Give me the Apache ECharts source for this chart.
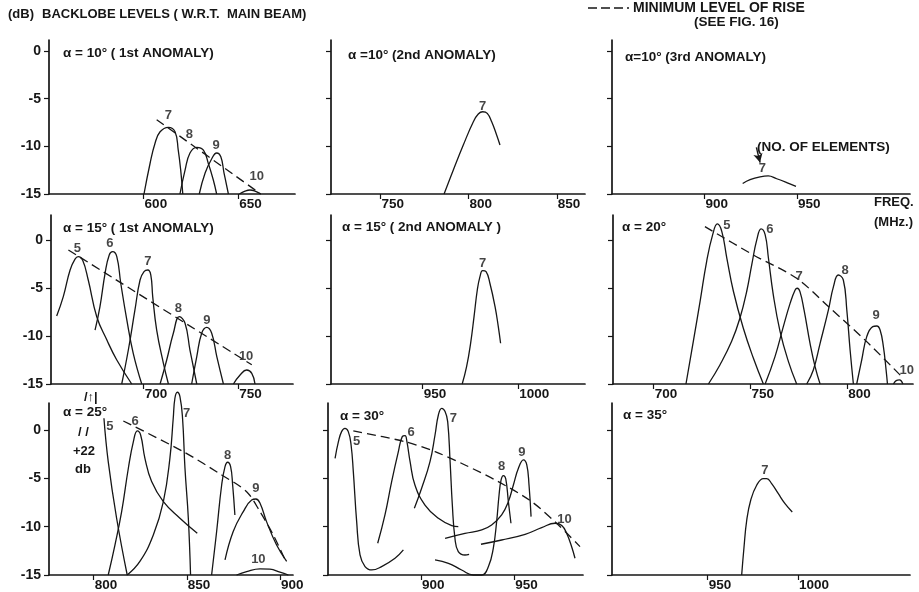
<!DOCTYPE html>
<html><head><meta charset="utf-8">
<script src="https://cdn.jsdelivr.net/npm/echarts@6/dist/echarts.min.js"></script>
<style>html,body{margin:0;padding:0;background:#fff}#c{width:919px;height:592px}</style>
</head><body><div id="c"></div>
<script>
// ---- Data (frequency MHz, backlobe level dB) ----
const yTicks = [-15, -10, -5, 0];
// alpha=10 1st anomaly
const p11_x = [600, 650];
const p11_c7 = [[600.2,-15],[603.4,-11.8],[606.0,-9.7],[608.7,-8.47],[613.1,-8.0],[616.6,-8.47],[618.3,-10.4],[619.6,-12.5],[620.7,-15]];
const p11_c8 = [[619.2,-15],[621.9,-12.5],[624.5,-10.7],[628.1,-10.1],[631.6,-10.4],[634.2,-11.8],[636.8,-13.5],[638.6,-15]];
const p11_c9 = [[629.4,-15],[632.5,-12.8],[636.0,-11.3],[638.6,-10.7],[640.8,-11.1],[642.5,-12.8],[644.8,-15]];
const p11_c10 = [[650.6,-15],[653.6,-14.7],[656.2,-14.58],[658.9,-14.7],[661.9,-15]];
const p11_dash = [[606.9,-7.2],[661.9,-15]];
const p11_lab = [['7',613.1,-6.8],['8',624.2,-8.8],['9',638.3,-9.9],['10',659.8,-13.2]];
// alpha=10 2nd anomaly
const p12_x = [750, 800, 850];
const p12_c7 = [[786.1,-15],[791.3,-12.5],[797.0,-9.86],[802.7,-7.42],[805.5,-6.61],[808.0,-6.37],[810.6,-6.54],[813.1,-7.42],[815.9,-8.81],[817.8,-9.86]];
const p12_lab = [['7',808,-5.77]];
// alpha=10 3rd anomaly
const p13_x = [900, 950];
const p13_c7 = [[920.6,-13.9],[924.6,-13.5],[930.0,-13.2],[934.4,-13.1],[939.0,-13.4],[944.4,-13.8],[949.4,-14.2]];
const p13_lab = [['7',931.2,-12.3]];
const p13_arrow = [[928.0,-10.1],[930.0,-11.7]];
// alpha=15 1st anomaly
const p21_x = [700, 750];
const p21_c5 = [[654.0,-7.92],[657.5,-5.9],[661.1,-3.13],[663.7,-2.0],[665.4,-1.74],[667.8,-2.15],[670.7,-4.17],[675.2,-7.99],[680.5,-10.4],[685.8,-12.5],[693.7,-15]];
const p21_c6 = [[674.3,-9.38],[676.9,-6.94],[679.6,-3.47],[681.8,-1.56],[683.6,-1.22],[685.8,-1.74],[687.9,-4.51],[691.1,-8.33],[694.5,-11.8],[699.0,-15]];
const p21_c7 = [[688.4,-15],[691.9,-11.46],[695.4,-7.29],[698.1,-4.17],[700.2,-3.3],[702.2,-3.13],[703.8,-3.65],[704.8,-5.9],[706.9,-9.38],[710.4,-12.8],[713.1,-15]];
const p21_c8 = [[708.7,-15],[712.2,-12.5],[715.7,-9.72],[718.9,-7.99],[721.9,-8.68],[724.5,-11.46],[728.1,-15]];
const p21_c9 = [[725.4,-15],[728.1,-12.15],[730.7,-9.72],[733.4,-9.1],[736.0,-9.72],[738.7,-12.15],[742.2,-15]];
const p21_c10 = [[747.5,-15],[751.0,-14.06],[754.5,-13.54],[757.2,-13.89],[758.9,-15]];
const p21_dash = [[660.2,-1.04],[757.2,-13.0]];
const p21_lab = [['5',664.9,-0.87],['6',682.2,-0.35],['7',702.2,-2.26],['8',718.4,-7.12],['9',733.4,-8.33],['10',754.2,-12.15]];
// alpha=15 2nd anomaly
const p22_x = [950, 1000];
const p22_c7 = [[970.7,-15],[973.0,-13.2],[975.1,-10.76],[976.9,-7.99],[978.6,-5.21],[980.0,-3.82],[981.4,-3.19],[983.2,-3.3],[985.2,-4.51],[987.9,-6.94],[989.6,-9.03],[990.8,-10.76]];
const p22_lab = [['7',981.4,-2.43]];
// alpha=20
const p23_x = [700, 750, 800];
const p23_c5 = [[716.7,-15],[720.5,-10.56],[724.0,-6.39],[727.4,-2.22],[730.5,0.55],[732.9,1.67],[735.2,0.9],[737.8,-1.88],[741.2,-5.34],[746.3,-9.17],[751.5,-12.3],[756.7,-15]];
const p23_c6 = [[728.3,-15],[734.3,-12.99],[740.3,-10.56],[744.6,-8.13],[748.1,-5.34],[750.7,-2.57],[753.3,0.03],[755.5,1.15],[757.6,0.55],[759.3,-1.88],[761.8,-5.69],[765.3,-9.51],[769.6,-12.64],[773.9,-15]];
const p23_c7 = [[757.6,-15],[762.7,-12.15],[767.0,-9.03],[770.5,-6.6],[773.1,-5.21],[774.2,-5.03],[775.6,-5.38],[777.7,-7.29],[780.8,-10.76],[783.4,-13.19],[786.0,-15]];
const p23_c8 = [[779.1,-15],[782.5,-13.54],[786.0,-10.76],[790.3,-7.29],[792.9,-4.86],[795.4,-3.65],[798.0,-4.17],[799.8,-7.29],[801.5,-11.46],[803.2,-15]];
const p23_c9 = [[804.9,-15],[807.5,-12.5],[810.1,-10.07],[813.2,-9.03],[815.3,-8.96],[817.0,-9.38],[818.7,-11.1],[820.1,-13.54],[820.8,-15]];
const p23_c10 = [[823.9,-15],[825.3,-14.65],[827.0,-14.58],[828.8,-15]];
const p23_dash = [[726.5,1.39],[751.5,-1.56],[773.9,-3.99],[790.3,-6.94],[810.1,-10.59],[828.2,-14.24]];
const p23_lab = [['5',737.8,1.56],['6',760.1,1.11],['7',775.1,-3.75],['8',798.9,-3.13],['9',814.9,-7.81],['10',830.8,-13.54]];
// alpha=25
const p31_x = [800, 850, 900];
const p31_c5 = [[805.5,1.21],[807.8,-3.28],[812.3,-9.13],[818.0,-15]];
const p31_c6 = [[807.8,-15],[811.4,-11.9],[815.0,-8.45],[818.6,-3.96],[821.3,-1.21],[823.4,-0.1],[825.2,-0.52],[827.5,-2.93],[831.1,-5.34],[837.4,-7.41],[846.3,-9.13],[855.6,-10.69]];
const p31_c7 = [[818.0,-15],[824.8,-13.6],[832.0,-10.86],[837.4,-7.41],[840.9,-2.93],[842.7,1.21],[843.6,3.28],[844.9,3.9],[846.3,3.45],[847.7,1.21],[849.0,-3.96],[850.8,-9.13],[852.0,-15]];
const p31_c8 = [[863.3,-15],[866.0,-10.5],[868.7,-5.69],[870.5,-3.79],[871.9,-3.34],[873.5,-3.79],[874.6,-5.69],[875.8,-8.79]];
const p31_c9 = [[870.5,-13.44],[874.9,-10.5],[880.3,-8.45],[884.8,-7.24],[887.1,-7.14],[889.3,-7.58],[892.8,-9.48],[898.2,-11.9],[903.6,-13.6]];
const p31_c10 = [[876.7,-15],[882.1,-14.65],[889.3,-14.37],[894.6,-14.4],[900.0,-14.7],[904.5,-15]];
const p31_dash = [[815.9,0.93],[848.1,-2.24],[868.7,-4.65],[882.1,-6.38],[889.3,-8.45],[896.4,-10.86],[903.2,-13.6]];
const p31_lab = [['5',808.7,0.34],['6',822.2,0.86],['7',849.9,1.72],['8',871.9,-2.59],['9',887.1,-6.03],['10',888.4,-13.44]];
// alpha=30
const p32_x = [900, 950];
const p32_c5 = [[853.8,-2.93],[855.6,-1.21],[857.3,-0.17],[859.1,0.17],[860.9,-0.17],[862.4,-1.55],[863.6,-4.31],[865.4,-9.48],[867.2,-12.93],[869.9,-14.13],[873.5,-14.48],[878.8,-14.13],[886.0,-13.27],[890.5,-12.41]];
const p32_c6 = [[876.7,-11.72],[880.6,-8.79],[884.2,-5.34],[887.8,-2.24],[889.9,-0.69],[891.4,-0.59],[892.4,-1.21],[894.1,-3.28],[896.7,-5.69],[902.1,-7.76],[909.3,-9.13],[916.5,-9.89],[920.0,-10.0]];
const p32_c7 = [[896.4,-8.1],[900.3,-6.03],[904.8,-3.28],[907.5,-0.52],[909.3,1.55],[911.1,2.24],[912.9,1.9],[914.3,0.86],[915.6,-3.28],[916.8,-7.76],[918.2,-11.2],[920.0,-12.58],[923.6,-12.93],[925.8,-12.86]];
const p32_c8 = [[907.5,-13.44],[914.7,-13.79],[921.8,-14.48],[928.1,-15],[932.6,-15],[936.2,-14.13],[938.8,-12.24],[940.6,-9.48],[941.9,-6.72],[943.0,-5.17],[944.2,-4.72],[945.5,-5.06],[946.9,-7.41],[948.3,-9.65]];
const p32_c9 = [[912.9,-11.2],[923.6,-10.69],[932.6,-10.34],[937.9,-9.83],[943.3,-8.79],[946.9,-7.41],[949.6,-5.69],[952.3,-3.97],[955.0,-3.1],[956.8,-3.62],[958.0,-5.69],[959.1,-8.96]];
const p32_c10 = [[932.2,-11.82],[943.3,-11.38],[955.9,-10.79],[964.8,-10.1],[972.0,-9.65],[975.6,-9.89],[978.2,-10.69],[980.9,-12.07],[982.7,-13.27]];
const p32_dash = [[863.6,-0.1],[891.4,-1.21],[907.5,-2.24],[923.6,-3.62],[941.5,-5.34],[959.4,-7.41],[973.8,-9.83],[985.4,-12.07]];
const p32_lab = [['5',865.4,-1.14],['6',894.6,-0.24],['7',917.3,1.21],['8',943.3,-3.79],['9',954.1,-2.31],['10',977.0,-9.2]];
// alpha=35
const p33_x = [950, 1000];
const p33_c7 = [[968.8,-15],[970.1,-12.1],[971.6,-9.34],[973.8,-7.27],[977.1,-5.72],[980.8,-5.03],[982.7,-5.03],[985.4,-5.55],[989.1,-6.59],[992.8,-7.62],[996.8,-8.48]];
const p33_lab = [['7',981.7,-4.17]];

// ---- Layout ----
const INK = '#161616';
const FONT = '"Liberation Sans",Arial,sans-serif';
const panels = [
  {g:[49,40,246,154], x:[550,680], ymax:1.16, xt:p11_x, ylab:true, curves:[p11_c7,p11_c8,p11_c9,p11_c10], dash:[p11_dash], lab:p11_lab, title:'\u03b1 = 10\u00b0 ( 1st ANOMALY)', tp:[63,53]},
  {g:[331,40,254,154], x:[722,866], ymax:1.16, xt:p12_x, ylab:false, curves:[p12_c7], dash:[], lab:p12_lab, title:'\u03b1 =10\u00b0 (2nd ANOMALY)', tp:[348,55]},
  {g:[612,40,298,154], x:[850,1011], ymax:1.16, xt:p13_x, ylab:false, curves:[p13_c7], dash:[], lab:p13_lab, arrow:p13_arrow, title:'\u03b1=10\u00b0 (3rd ANOMALY)', tp:[625,57]},
  {g:[51,215,242,169], x:[651,779], ymax:2.6, xt:p21_x, ylab:true, curves:[p21_c5,p21_c6,p21_c7,p21_c8,p21_c9,p21_c10], dash:[p21_dash], lab:p21_lab, title:'\u03b1 = 15\u00b0 ( 1st ANOMALY)', tp:[63,228]},
  {g:[331,215,254,169], x:[902,1035], ymax:2.6, xt:p22_x, ylab:false, curves:[p22_c7], dash:[], lab:p22_lab, title:'\u03b1 = 15\u00b0 ( 2nd ANOMALY )', tp:[342,227]},
  {g:[613,215,300,169], x:[679,834], ymax:2.6, xt:p23_x, ylab:false, curves:[p23_c5,p23_c6,p23_c7,p23_c8,p23_c9,p23_c10], dash:[p23_dash], lab:p23_lab, title:'\u03b1 = 20\u00b0', tp:[622,227]},
  {g:[49,403,244,172], x:[776,907], ymax:2.79, xt:p31_x, ylab:true, curves:[p31_c5,p31_c6,p31_c7,p31_c8,p31_c9,p31_c10], dash:[p31_dash], lab:p31_lab, title:'\u03b1 = 25\u00b0', tp:[63,412]},
  {g:[328,403,255,172], x:[850,987], ymax:2.79, xt:p32_x, ylab:false, curves:[p32_c5,p32_c6,p32_c7,p32_c8,p32_c9,p32_c10], dash:[p32_dash], lab:p32_lab, title:'\u03b1 = 30\u00b0', tp:[340,416]},
  {g:[612,403,298,172], x:[897,1062], ymax:2.79, xt:p33_x, ylab:false, curves:[p33_c7], dash:[], lab:p33_lab, title:'\u03b1 = 35\u00b0', tp:[623,415]}
];

const option = {animation:false, backgroundColor:'#ffffff', grid:[], xAxis:[], yAxis:[], series:[], graphic:[]};
const txt = (x, y, s, size) => ({type:'text', x:x, y:y, silent:true,
  style:{text:s, fill:INK, font:'bold '+(size||12)+'px '+FONT, verticalAlign:'middle', align:'left'}});

panels.forEach((p, i) => {
  option.grid.push({left:p.g[0], top:p.g[1], width:p.g[2], height:p.g[3]});
  option.xAxis.push({type:'value', gridIndex:i, min:p.x[0], max:p.x[1],
    axisLine:{show:true, onZero:false, lineStyle:{color:INK, width:1.7}},
    axisTick:{show:true, customValues:p.xt, length:5, lineStyle:{color:INK, width:1.2}},
    axisLabel:{show:true, customValues:p.xt, formatter:v => String(v), align:'left', margin:3, padding:[0,0,0,1], color:INK, fontFamily:FONT, fontWeight:'bold', fontSize:13.5},
    splitLine:{show:false}});
  option.yAxis.push({type:'value', gridIndex:i, min:-15, max:p.ymax,
    axisLine:{show:true, onZero:false, lineStyle:{color:INK, width:1.7}},
    axisTick:{show:true, customValues:yTicks, length:5, lineStyle:{color:INK, width:1.2}},
    axisLabel:{show:p.ylab, customValues:yTicks, formatter:v => String(v), margin:8, color:INK, fontFamily:FONT, fontWeight:'bold', fontSize:14},
    splitLine:{show:false}});
  p.curves.forEach((c, k) => {
    const s = {type:'line', xAxisIndex:i, yAxisIndex:i, data:c, showSymbol:false, symbol:'none', clip:false,
      smooth:0.45, lineStyle:{color:INK, width:1.3}, silent:true, z:3};
    if (k === 0 && p.arrow) {
      s.markLine = {silent:true, symbol:['none','arrow'], symbolSize:[7,9], label:{show:false},
        lineStyle:{color:INK, type:'solid', width:1.4, curveness:-0.7},
        data:[[{coord:p.arrow[0]},{coord:p.arrow[1]}]]};
    }
    option.series.push(s);
  });
  p.dash.forEach(d => option.series.push({type:'line', xAxisIndex:i, yAxisIndex:i, data:d, showSymbol:false, symbol:'none', clip:false,
    smooth:0.3, lineStyle:{color:INK, width:1.3, type:[9,5]}, silent:true, z:3}));
  option.series.push({type:'scatter', xAxisIndex:i, yAxisIndex:i, symbolSize:0, silent:true, clip:false,
    data:p.lab.map(l => ({name:l[0], value:[l[1], l[2]]})),
    label:{show:true, position:'inside', formatter:'{b}', color:INK, fontFamily:FONT, fontWeight:'bold', fontSize:13}, z:4});
  option.graphic.push(txt(p.tp[0], p.tp[1], p.title, 13.5));
});

option.graphic.push(
  txt(8, 14, '(dB)', 13),
  txt(42, 14, 'BACKLOBE LEVELS ( W.R.T.  MAIN BEAM)', 13),
  {type:'line', silent:true, shape:{x1:588, y1:8, x2:629, y2:8}, style:{stroke:INK, lineWidth:1.6, lineDash:[9,4]}},
  txt(633, 8, 'MINIMUM LEVEL OF RISE', 14),
  txt(694, 22, '(SEE FIG. 16)', 13.5),
  txt(757, 147, '(NO. OF ELEMENTS)', 13.5),
  txt(874, 202, 'FREQ.', 13),
  txt(874, 222, '(MHz.)', 13),
  txt(84, 397, '/\u2191|', 13),
  txt(78, 432, '/ /', 13),
  txt(73, 451, '+22', 13),
  txt(75, 469, 'db', 13)
);

const chart = echarts.init(document.getElementById('c'), null, {renderer:'canvas'});
chart.setOption(option);
</script></body></html>
